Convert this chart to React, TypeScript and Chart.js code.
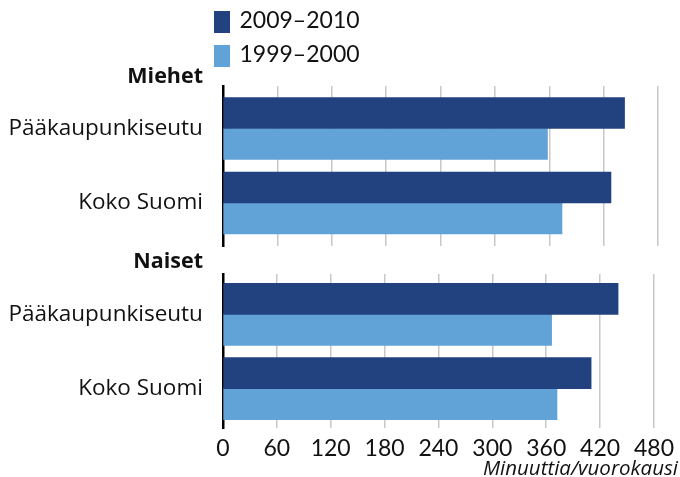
import React, { useEffect, useRef } from "react";
import { Chart, registerables } from "chart.js";

Chart.register(...registerables);

// ---- data ----
const groups = ["Miehet", "Naiset"];
const categories = ["Pääkaupunkiseutu", "Koko Suomi"];
const seriesLabels = ["2009–2010", "1999–2000"];
const miehet2009 = [443, 428];
const miehet1999 = [358, 374];
const naiset2009 = [440, 410];
const naiset1999 = [366, 372];
const xTicks = [0, 60, 120, 180, 240, 300, 360, 420, 480];
const axisTitle = "Minuuttia/vuorokausi";

// ---- style ----
const DARK = "#21427f";
const LIGHT = "#62a3d7";
const NUM_FONT = "Lato, sans-serif";
const TXT_FONT = "'Open Sans', sans-serif";
const TEXT = "#111111";
const W = 680;
const H = 477;
const LEFT = 222.9;
const RIGHT = 658.1;
const ASC = 0.887;

function buildChart(
  canvas: HTMLCanvasElement,
  d2009: number[],
  d1999: number[],
  padTop: number,
  padBottom: number,
  yMin: number,
  yMax: number,
  showX: boolean
) {
  return new Chart(canvas, {
    type: "bar",
    data: {
      datasets: [
        {
          label: seriesLabels[0],
          data: d2009.map((v, i) => ({ x: v, y: i })),
          backgroundColor: DARK,
          barThickness: 31,
        },
        {
          label: seriesLabels[1],
          data: d1999.map((v, i) => ({ x: v, y: i })),
          backgroundColor: LIGHT,
          barThickness: 31,
        },
      ],
    },
    options: {
      indexAxis: "y",
      responsive: false,
      animation: false,
      events: [],
      layout: { padding: { top: padTop, bottom: padBottom, left: 0, right: W - RIGHT } },
      plugins: { legend: { display: false }, tooltip: { enabled: false } },
      scales: {
        x: {
          type: "linear",
          min: 0,
          max: 480,
          afterBuildTicks: (s: any) => {
            s.ticks = xTicks.map((v) => ({ value: v }));
          },
          grid: { color: "#c8c8c8", lineWidth: 1.5, drawTicks: false },
          border: { display: false },
          ticks: {
            display: showX,
            font: { family: NUM_FONT, size: 23 },
            color: TEXT,
            padding: 6,
            maxRotation: 0,
            autoSkip: false,
          },
        },
        y: {
          type: "linear",
          reverse: true,
          offset: false,
          min: yMin,
          max: yMax,
          z: 1,
          afterBuildTicks: (s: any) => {
            s.ticks = categories.map((_, i) => ({ value: i }));
          },
          afterFit: (s: any) => {
            s.width = LEFT;
          },
          grid: { display: false, drawTicks: false, offset: false },
          border: { display: true, color: "#000", width: 2.5 },
          ticks: {
            callback: (v: any) => categories[v as number],
            font: { family: TXT_FONT, size: 22.5 },
            color: TEXT,
            padding: 20,
            autoSkip: false,
          },
        },
      },
    } as any,
  });
}

function Label(props: {
  x: number;
  base: number;
  size: number;
  font?: string;
  align?: "left" | "right";
  weight?: number;
  italic?: boolean;
  text: string;
}) {
  const { x, base, size, font = TXT_FONT, align = "left", weight = 400, italic = false, text } = props;
  const style: React.CSSProperties = {
    position: "absolute",
    top: base - ASC * size,
    fontFamily: font,
    fontSize: size,
    lineHeight: `${size}px`,
    whiteSpace: "nowrap",
    fontWeight: weight,
    fontStyle: italic ? "italic" : "normal",
    color: TEXT,
  };
  if (align === "right") style.right = W - x;
  else style.left = x;
  return <div style={style}>{text}</div>;
}

export default function App() {
  const ref1 = useRef<HTMLCanvasElement>(null);
  const ref2 = useRef<HTMLCanvasElement>(null);

  useEffect(() => {
    const c1 = buildChart(ref1.current!, miehet2009, miehet1999, 86, H - 246, -0.57, 1.577, false);
    const c2 = buildChart(ref2.current!, naiset2009, naiset1999, 274, 9, -0.544, 1.537, true);
    return () => {
      c1.destroy();
      c2.destroy();
    };
  }, []);

  const canvasStyle: React.CSSProperties = { position: "absolute", left: 0, top: 0, width: W, height: H };

  return (
    <div
      style={{
        position: "fixed",
        left: 0,
        top: 0,
        width: W,
        height: H,
        background: "#fff",
        overflow: "hidden",
      }}
    >
      <canvas ref={ref1} width={W} height={H} style={canvasStyle} />
      <canvas ref={ref2} width={W} height={H} style={canvasStyle} />
      {/* legend */}
      <div style={{ position: "absolute", left: 214, top: 11, width: 16, height: 22, background: DARK }} />
      <div style={{ position: "absolute", left: 214, top: 45, width: 16, height: 22, background: LIGHT }} />
      <Label x={239.5} base={28.3} size={23} font={NUM_FONT} text={seriesLabels[0]} />
      <Label x={239.5} base={62.3} size={23} font={NUM_FONT} text={seriesLabels[1]} />
      {/* group headings */}
      <Label x={203} base={82.7} size={21.5} weight={700} align="right" text={groups[0]} />
      <Label x={203} base={268.3} size={21.5} weight={700} align="right" text={groups[1]} />
      {/* axis title */}
      <Label x={678} base={475} size={20.5} italic align="right" text={axisTitle} />
    </div>
  );
}
